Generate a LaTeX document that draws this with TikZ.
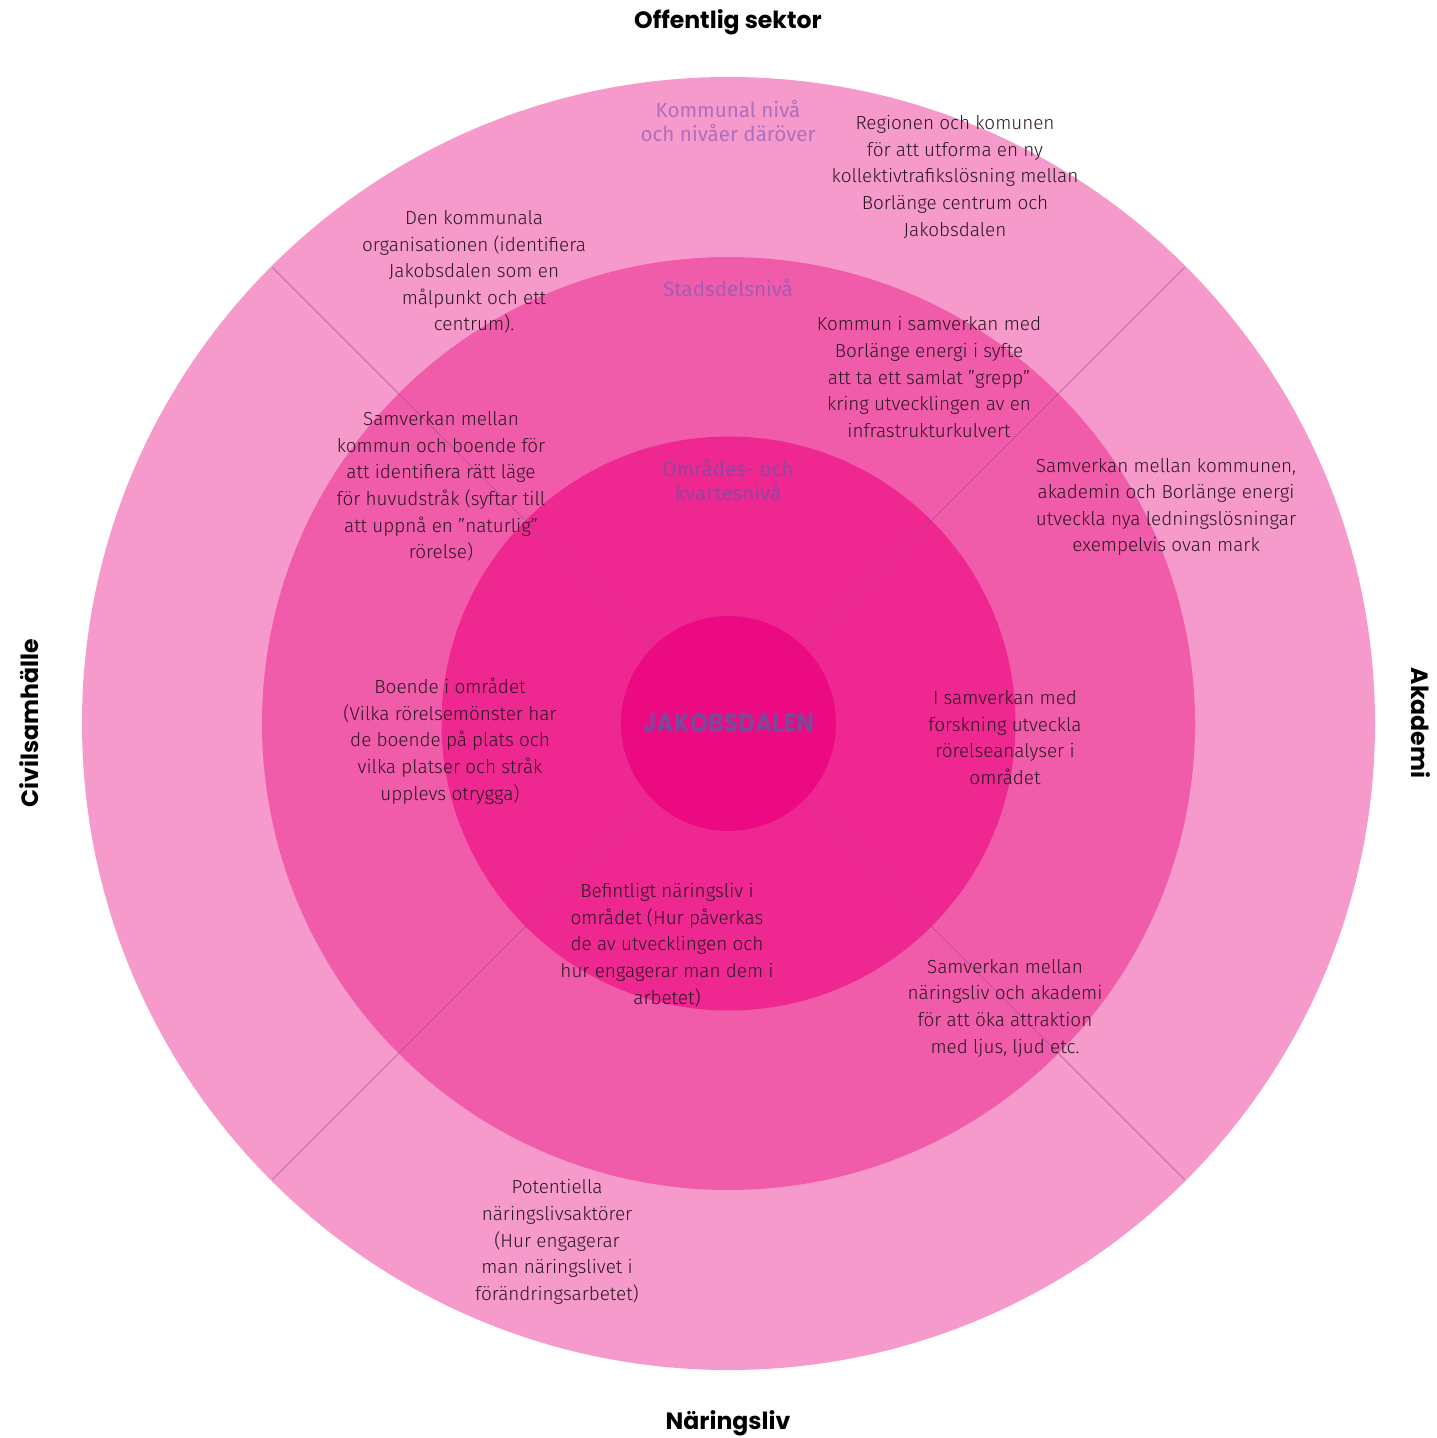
\documentclass[tikz,border=0pt]{standalone}
\usepackage{fontspec}
\setmainfont{Fira Sans Light}
\newfontfamily\headfont{Poppins Bold}
\newfontfamily\corefont[LetterSpace=1]{Poppins Bold}
\newfontfamily\lvlfont{Fira Sans}
\definecolor{ringA}{HTML}{F69ACB}
\definecolor{ringB}{HTML}{F05CAA}
\definecolor{ringC}{HTML}{EE2890}
\definecolor{ringD}{HTML}{EC0A82}
\definecolor{txt}{HTML}{2A1622}
\definecolor{lvl}{HTML}{8A4FA8}
\definecolor{lvlA}{HTML}{AE6FBF}
\definecolor{lvlB}{HTML}{A45CB3}
\definecolor{lvlC}{HTML}{8E479F}
\definecolor{core}{HTML}{7B489C}
\begin{document}
\begin{tikzpicture}[x=0.5pt,y=-0.5pt,
  body/.style={align=center,text=txt,font=\fontsize{9.45}{13.3}\selectfont,inner sep=0pt},
  level/.style={align=center,font=\lvlfont\fontsize{10.3}{12}\selectfont,inner sep=0pt},
  head/.style={text=black,font=\headfont\fontsize{11.8}{13}\selectfont,inner sep=0pt},
  divider/.style={draw=lvl,draw opacity=0.6,line width=0.45pt}]
\useasboundingbox (0,0) rectangle (1436,1438);
\coordinate (c) at (728.5,723.5);
\fill[ringA] (c) circle[radius=646.5];
\fill[ringB] (c) circle[radius=466.5];
\fill[ringC] (c) circle[radius=287];
\coordinate (ne) at ([shift={(456,-456)}]c);
\coordinate (nw) at ([shift={(-456,-456)}]c);
\coordinate (se) at ([shift={(456,456)}]c);
\coordinate (sw) at ([shift={(-456,456)}]c);
\draw[divider] (nw) -- (se);
\draw[divider] (ne) -- (sw);
\fill[ringD] (c) circle[radius=107.5];

\node[head] (off) at (728,22) {Offentlig sektor};
\node[head] (nar) at (728,1423) {Näringsliv};
\node[head,rotate=90] (civ) at (29,723) {Civilsamhälle};
\node[head,rotate=-90] (aka) at (1421,723) {Akademi};

\node[text=core,font=\corefont\fontsize{13.4}{15}\selectfont,inner sep=0pt] (jak) at (c) {\scalebox{0.86}[1]{JAKOBSDALEN}};

\node[level,text=lvlA] (l1) at (728,121) {Kommunal nivå\\och nivåer däröver};
\node[level,text=lvlB] (l2) at (728,288) {Stadsdelsnivå};
\node[level,text=lvlC] (l3) at (728,480) {Områdes- och\\kvartesnivå};

\node[body] (t1) at (955,177) {Regionen och komunen\\för att utforma en ny\\kollektivtrafikslösning mellan\\Borlänge centrum och\\Jakobsdalen};
\node[body] (t2) at (474,272) {Den kommunala\\organisationen (identifiera\\Jakobsdalen som en\\målpunkt och ett\\centrum).};
\node[body] (t3) at (441,486.5) {Samverkan mellan\\kommun och boende för\\att identifiera rätt läge\\för huvudstråk (syftar till\\att uppnå en ”naturlig”\\rörelse)};
\node[body] (t4) at (929,377) {Kommun i samverkan med\\Borlänge energi i syfte\\att ta ett samlat ”grepp”\\kring utvecklingen av en\\infrastrukturkulvert};
\node[body] (t5) at (1166,507) {Samverkan mellan kommunen,\\akademin och Borlänge energi\\utveckla nya ledningslösningar\\exempelvis ovan mark};
\node[body] (t6) at (450,741) {Boende i området\\(Vilka rörelsemönster har\\de boende på plats och\\vilka platser och stråk\\upplevs otrygga)};
\node[body] (t7) at (1005,737.5) {I samverkan med\\forskning utveckla\\rörelseanalyser i\\området};
\node[body] (t8) at (667,945) {Befintligt näringsliv i\\området (Hur påverkas\\de av utvecklingen och\\hur engagerar man dem i\\arbetet)};
\node[body] (t9) at (1005,1008) {Samverkan mellan\\näringsliv och akademi\\för att öka attraktion\\med ljus, ljud etc.};
\node[body] (t10) at (557,1242) {Potentiella\\näringslivsaktörer\\(Hur engagerar\\man näringslivet i\\förändringsarbetet)};
\end{tikzpicture}
\end{document}
